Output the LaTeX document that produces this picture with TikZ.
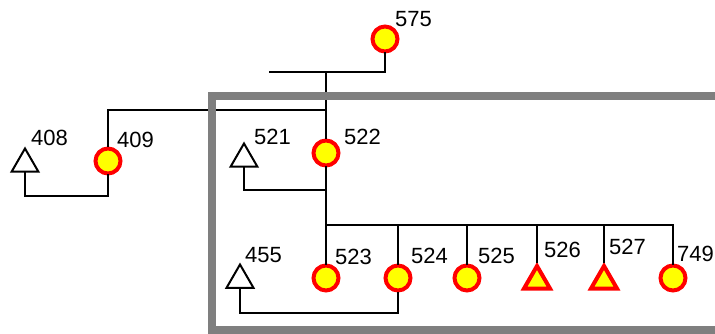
\documentclass[tikz,border=0pt]{standalone}
\usepackage{fontspec}
\setmainfont{Liberation Sans}
\usetikzlibrary{shapes.geometric, positioning}
\definecolor{kred}{HTML}{FF0000}
\definecolor{kyellow}{HTML}{FFFF00}
\definecolor{kgray}{HTML}{7F7F7F}
\tikzset{
  carrier/.style={circle, draw=kred, fill=kyellow, line width=4pt, minimum size=25pt, inner sep=0pt},
  affected/.style={regular polygon, regular polygon sides=3, draw=kred, fill=kyellow, line width=4pt,
                   minimum size=30pt, inner sep=0pt},
  unaffected/.style={regular polygon, regular polygon sides=3, draw=black, fill=white, line width=2pt,
                     minimum size=31pt, inner sep=0pt},
  num/.style={font=\fontsize{22}{26}\selectfont, inner sep=0pt},
  branch/.style={draw=black, line width=2pt, line cap=rect},
  boxline/.style={draw=kgray, line width=8pt}
}

\begin{document}
\begin{tikzpicture}[x=1pt, y=-1pt]
  \useasboundingbox (0,0) rectangle (715,334);
  % individuals
  \node[carrier] (c575) at (385,39) {};
  \node[carrier] (c409) at (108,161) {};
  \node[unaffected] (t408) at (25,164) {};
  \node[carrier] (c522) at (326,153) {};
  \node[unaffected] (t521) at (244,159) {};
  \node[unaffected] (t455) at (240,280) {};
  \node[carrier] (c523) at (326,278) {};
  \node[carrier] (c524) at (398,278) {};
  \node[carrier] (c525) at (467,278) {};
  \node[affected] (t526) at (537,281) {};
  \node[affected] (t527) at (604,281) {};
  \node[carrier] (c749) at (673,278) {};
  % labels
  \node[num, above right=12pt and 10pt of c575.center] (l575) {575};
  \node[num, above right=13pt and 9pt of c409.center] (l409) {409};
  \node[num, above right=8pt and 18pt of c522.center] (l522) {522};
  \node[num, above right=13pt and 9pt of c523.center] (l523) {523};
  \node[num, above right=14pt and 13pt of c524.center] (l524) {524};
  \node[num, above right=14pt and 11pt of c525.center] (l525) {525};
  \node[num, above right=16pt and 4pt of c749.center] (l749) {749};
  \node[num, above right=1pt and 6pt of t408.corner 1] (l408) {408};
  \node[num, above right=-3pt and 10pt of t521.corner 1] (l521) {521};
  \node[num, above right=0pt and 5pt of t455.corner 1] (l455) {455};
  \node[num, above right=4pt and 7pt of t526.corner 1] (l526) {526};
  \node[num, above right=7pt and 5pt of t527.corner 1] (l527) {527};
  % junctions
  \coordinate (top) at (270,72);
  \coordinate (sib) at (326,110);
  \coordinate (j408) at (108,196);
  \coordinate (j521) at (326,190);
  \coordinate (bus) at (326,225);
  \coordinate (j455) at (398,313);
  % tree
  \draw[branch] (c575.south) |- (top);
  \draw[branch] (c522 |- top) -- (c522.north);
  \draw[branch] (c409.north) |- (sib);
  \draw[branch] (c409.south) -- (j408) -| (t408.south);
  \draw[branch] (c522.south) -- (bus);
  \draw[branch] (j521) -| (t521.south);
  \draw[branch] (bus) -| (c749.north);
  \foreach \k in {c523,c524,c525,t526,t527}
    \draw[branch] (bus -| \k) -- (\k.north);
  \draw[branch] (c524.south) -- (j455) -| (t455.south);
  % frame
  \draw[boxline] (722,96) -| (212,330) -- (722,330);
\end{tikzpicture}
\end{document}
